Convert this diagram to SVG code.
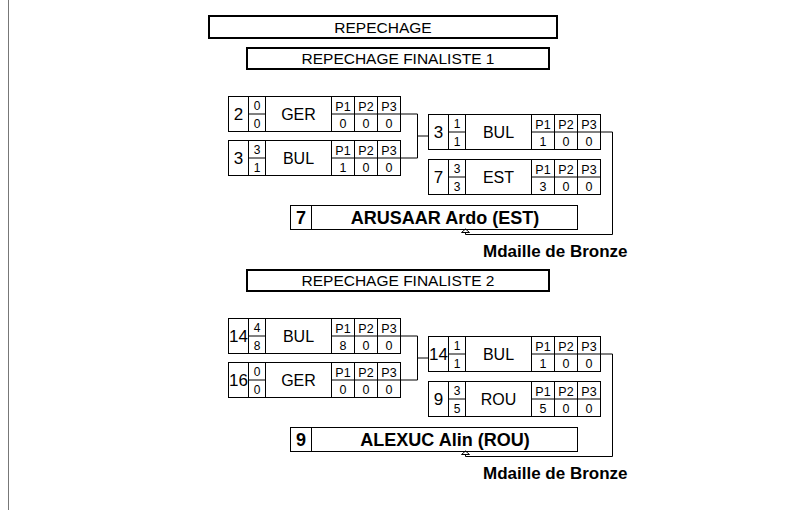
<svg xmlns="http://www.w3.org/2000/svg" width="809" height="522" viewBox="0 0 809 522">
<style>
.b{fill:none;stroke:#000;stroke-width:1}
.bt{fill:none;stroke:#000;stroke-width:2}
text{font-family:"Liberation Sans",Arial,sans-serif;text-anchor:middle;fill:#000}
.sd{font-size:17px}
.sc{font-size:12px}
.nm{font-size:16px}
.p{font-size:12.5px}
.ti{font-size:15.5px}
.wn{font-size:18px;font-weight:bold}
.md{font-size:17px;font-weight:bold;text-anchor:start}
.ar{fill:#fff;stroke:#000;stroke-width:1}
</style>
<defs>
<g id="grid">
<rect class="b" x="0.5" y="0.5" width="172" height="35"/>
<path class="b" d="M20.5 0.5V35.5M37.5 0.5V35.5M20.5 18H37.5M103.5 0.5V35.5M126.5 0.5V35.5M149.5 0.5V35.5M103.5 18H172.5"/>
<text class="p" x="115" y="14.5">P1</text><text class="p" x="138" y="14.5">P2</text><text class="p" x="161" y="14.5">P3</text>
</g>
<g id="wgrid">
<rect class="b" x="0.5" y="0.5" width="287" height="24"/>
<path class="b" d="M21.5 0.5V24.5"/>
</g>
</defs>
<rect width="809" height="522" fill="#fff"/>
<path d="M8.5 0V510" stroke="#777" stroke-width="1"/>

<g id="title"><rect class="bt" x="209" y="16" width="348" height="22" fill="#fff"/><text class="ti" x="383" y="32.5">REPECHAGE</text></g>
<g id="final1"><rect class="bt" x="247" y="48" width="302" height="21" fill="#fff"/><text class="ti" x="398" y="64">REPECHAGE FINALISTE 1</text></g>
<g id="final2"><rect class="bt" x="247" y="270" width="302" height="21" fill="#fff"/><text class="ti" x="398" y="286">REPECHAGE FINALISTE 2</text></g>

<g id="connectors">
<path class="b" d="M401 114H417.5V158H401M417.5 136H428"/>
<path class="b" d="M601 132H612.5V234.5H465.5V232"/>
<path class="b" d="M401 336H417.5V380H401M417.5 358H428"/>
<path class="b" d="M601 354H612.5V456.5H465.5V454"/>
<path class="ar" d="M465.5 229L461.5 232.5H469.5Z"/>
<path class="ar" d="M465.5 451L461.5 454.5H469.5Z"/>
</g>

<g id="m1a" transform="translate(228,96)"><use href="#grid"/><text class="sd" x="10.5" y="24">2</text><text class="sc" x="29" y="14">0</text><text class="sc" x="29" y="31.5">0</text><text class="nm" x="70.5" y="24">GER</text><text class="p" x="115" y="31.5">0</text><text class="p" x="138" y="31.5">0</text><text class="p" x="161" y="31.5">0</text></g>
<g id="m1b" transform="translate(228,140)"><use href="#grid"/><text class="sd" x="10.5" y="24">3</text><text class="sc" x="29" y="14">3</text><text class="sc" x="29" y="31.5">1</text><text class="nm" x="70.5" y="24">BUL</text><text class="p" x="115" y="31.5">1</text><text class="p" x="138" y="31.5">0</text><text class="p" x="161" y="31.5">0</text></g>
<g id="m1c" transform="translate(428,114)"><use href="#grid"/><text class="sd" x="10.5" y="24">3</text><text class="sc" x="29" y="14">1</text><text class="sc" x="29" y="31.5">1</text><text class="nm" x="70.5" y="24">BUL</text><text class="p" x="115" y="31.5">1</text><text class="p" x="138" y="31.5">0</text><text class="p" x="161" y="31.5">0</text></g>
<g id="m1d" transform="translate(428,159)"><use href="#grid"/><text class="sd" x="10.5" y="24">7</text><text class="sc" x="29" y="14">3</text><text class="sc" x="29" y="31.5">3</text><text class="nm" x="70.5" y="24">EST</text><text class="p" x="115" y="31.5">3</text><text class="p" x="138" y="31.5">0</text><text class="p" x="161" y="31.5">0</text></g>
<g id="w1" transform="translate(290,205)"><use href="#wgrid"/><text class="wn" x="11" y="19">7</text><text class="wn" x="155" y="19">ARUSAAR Ardo (EST)</text></g>
<g id="b1"><text class="md" x="483" y="257">Mdaille de Bronze</text></g>

<g id="m2a" transform="translate(228,318)"><use href="#grid"/><text class="sd" x="10.5" y="24">14</text><text class="sc" x="29" y="14">4</text><text class="sc" x="29" y="31.5">8</text><text class="nm" x="70.5" y="24">BUL</text><text class="p" x="115" y="31.5">8</text><text class="p" x="138" y="31.5">0</text><text class="p" x="161" y="31.5">0</text></g>
<g id="m2b" transform="translate(228,362)"><use href="#grid"/><text class="sd" x="10.5" y="24">16</text><text class="sc" x="29" y="14">0</text><text class="sc" x="29" y="31.5">0</text><text class="nm" x="70.5" y="24">GER</text><text class="p" x="115" y="31.5">0</text><text class="p" x="138" y="31.5">0</text><text class="p" x="161" y="31.5">0</text></g>
<g id="m2c" transform="translate(428,336)"><use href="#grid"/><text class="sd" x="10.5" y="24">14</text><text class="sc" x="29" y="14">1</text><text class="sc" x="29" y="31.5">1</text><text class="nm" x="70.5" y="24">BUL</text><text class="p" x="115" y="31.5">1</text><text class="p" x="138" y="31.5">0</text><text class="p" x="161" y="31.5">0</text></g>
<g id="m2d" transform="translate(428,381)"><use href="#grid"/><text class="sd" x="10.5" y="24">9</text><text class="sc" x="29" y="14">3</text><text class="sc" x="29" y="31.5">5</text><text class="nm" x="70.5" y="24">ROU</text><text class="p" x="115" y="31.5">5</text><text class="p" x="138" y="31.5">0</text><text class="p" x="161" y="31.5">0</text></g>
<g id="w2" transform="translate(290,427)"><use href="#wgrid"/><text class="wn" x="11" y="19">9</text><text class="wn" x="155" y="19">ALEXUC Alin (ROU)</text></g>
<g id="b2"><text class="md" x="483" y="479">Mdaille de Bronze</text></g>
</svg>
